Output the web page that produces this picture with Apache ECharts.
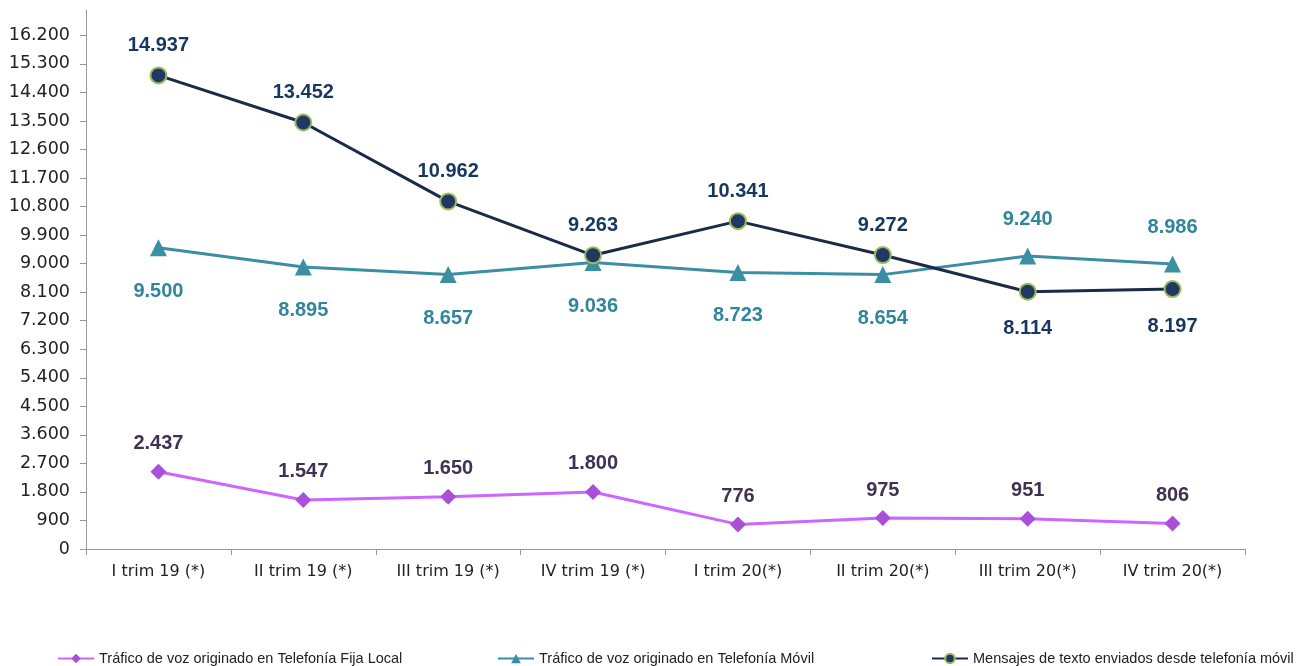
<!DOCTYPE html>
<html>
<head>
<meta charset="utf-8">
<script src="https://cdn.jsdelivr.net/npm/echarts@6/dist/echarts.min.js"></script>
<style>
  html, body { margin: 0; padding: 0; background: #fff; }
  #chart { width: 1310px; height: 666px; }
</style>
</head>
<body>
<div id="chart"></div>
<script>
// datos
const trimestres = ['I trim 19 (*)', 'II trim 19 (*)', 'III trim 19 (*)', 'IV trim 19 (*)', 'I trim 20(*)', 'II trim 20(*)', 'III trim 20(*)', 'IV trim 20(*)'];
const fijaLocal = [2437, 1547, 1650, 1800, 776, 975, 951, 806];
const movil = [9500, 8895, 8657, 9036, 8723, 8654, 9240, 8986];
const mensajes = [14937, 13452, 10962, 9263, 10341, 9272, 8114, 8197];
const nombres = ['Tráfico de voz originado en Telefonía Fija Local', 'Tráfico de voz originado en Telefonía Móvil', 'Mensajes de texto enviados desde telefonía móvil'];

// formato con punto de miles
function fmt(v) {
  return String(v).replace(/\B(?=(\d{3})+(?!\d))/g, '.');
}

// etiqueta arriba o abajo segun el punto
function etiquetas(valores, arriba, color, distArriba, distAbajo) {
  return valores.map((v, i) => ({
    value: v,
    label: {
      show: true,
      position: arriba[i] ? 'top' : 'bottom',
      distance: arriba[i] ? distArriba : distAbajo,
      color: color,
      fontSize: 20,
      fontWeight: 'bold',
      fontFamily: 'Liberation Sans, Arial',
      formatter: p => fmt(p.value)
    }
  }));
}

let myChart = echarts.init(document.getElementById('chart'));
const legendText = { fontSize: 14.5, color: '#222', fontFamily: 'Liberation Sans, Arial' };
myChart.setOption({
  animation: false,
  grid: { left: 86, right: 65, top: 10, bottom: 117 },
  legend: [
    { data: [nombres[0]], left: 52, top: 646, itemWidth: 36, itemHeight: 12, textStyle: legendText },
    { data: [nombres[1]], left: 492, top: 646, itemWidth: 36, itemHeight: 12, textStyle: legendText },
    { data: [nombres[2]], left: 926, top: 646, itemWidth: 36, itemHeight: 12, textStyle: legendText }
  ],
  xAxis: {
    type: 'category',
    data: trimestres,
    boundaryGap: true,
    axisLine: { lineStyle: { color: '#999' } },
    axisTick: { show: true, length: 6, lineStyle: { color: '#999' } },
    axisLabel: { color: '#222', fontSize: 16, margin: 15, fontFamily: 'DejaVu Sans, sans-serif' }
  },
  yAxis: {
    type: 'value',
    min: 0,
    max: 17000,
    interval: 900,
    splitLine: { show: false },
    axisLine: { show: true, lineStyle: { color: '#999' } },
    axisTick: { show: true, length: 6, lineStyle: { color: '#999' } },
    axisLabel: {
      color: '#222', fontSize: 17.5, margin: 16, showMaxLabel: false,
      fontFamily: 'DejaVu Sans, sans-serif',
      formatter: v => fmt(v)
    }
  },
  series: [
    {
      name: nombres[0],
      type: 'line',
      data: etiquetas(fijaLocal, [1, 1, 1, 1, 1, 1, 1, 1], '#403152', 10, 10),
      symbol: 'diamond',
      symbolSize: 16,
      lineStyle: { color: '#CC66FF', width: 3 },
      itemStyle: { color: '#A94FD8' }
    },
    {
      name: nombres[1],
      type: 'line',
      data: etiquetas(movil, [0, 0, 0, 0, 0, 0, 1, 1], '#31859C', 18, 25),
      symbol: 'triangle',
      symbolSize: 17,
      lineStyle: { color: '#3A8FA3', width: 3 },
      itemStyle: { color: '#3A8FA3' }
    },
    {
      name: nombres[2],
      type: 'line',
      data: etiquetas(mensajes, [1, 1, 1, 1, 1, 1, 0, 0], '#17375E', 11, 18),
      symbol: 'circle',
      symbolSize: 16,
      lineStyle: { color: '#1B2A47', width: 3 },
      itemStyle: { color: '#1F3864', borderColor: '#9BBB59', borderWidth: 2 }
    }
  ]
});
window.addEventListener('resize', function () {
  myChart.resize();
});
</script>
</body>
</html>
